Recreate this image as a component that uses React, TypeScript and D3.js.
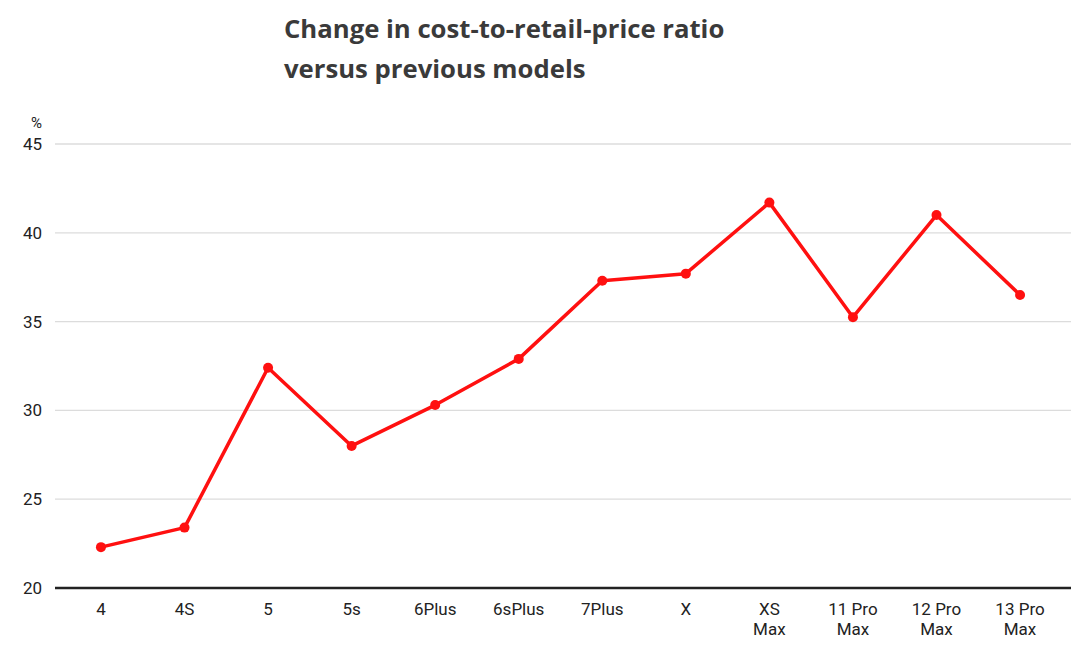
import React, { useEffect, useRef } from "react";
import * as d3 from "d3";

const models = [
  "4", "4S", "5", "5s", "6Plus", "6sPlus", "7Plus", "X",
  "XS\nMax", "11 Pro\nMax", "12 Pro\nMax", "13 Pro\nMax",
];
const ratios = [22.3, 23.4, 32.4, 28.0, 30.3, 32.9, 37.3, 37.7, 41.7, 35.25, 41.0, 36.5];
const yTicks = [20, 25, 30, 35, 40, 45];
const titleLines = ["Change in cost-to-retail-price ratio", "versus previous models"];

const W = 1080;
const H = 653;

export default function App() {
  const ref = useRef<SVGSVGElement>(null);

  useEffect(() => {
    const svg = d3.select(ref.current);
    svg.selectAll("*").remove();

    const left = 55, right = 1071, top = 144, bottom = 588;

    const x = d3.scalePoint<string>().domain(models).range([left, 1066]).padding(0.55);
    const y = d3.scaleLinear().domain([20, 45]).range([bottom, top]);

    // title
    svg.append("text")
      .attr("x", 284)
      .attr("y", 38)
      .attr("fill", "#3a3a3a")
      .style("font-family", "'Open Sans', sans-serif")
      .style("font-weight", 700)
      .style("font-size", "25.7px")
      .selectAll("tspan")
      .data(titleLines)
      .join("tspan")
      .attr("x", 284)
      .attr("dy", (d, i) => (i === 0 ? 0 : 40))
      .text(d => d);

    // grid
    svg.append("g")
      .selectAll("line")
      .data(yTicks.filter(t => t !== 20))
      .join("line")
      .attr("x1", left)
      .attr("x2", right)
      .attr("y1", d => y(d))
      .attr("y2", d => y(d))
      .attr("stroke", "#dcdcdc")
      .attr("stroke-width", 1.3);

    // baseline
    svg.append("line")
      .attr("x1", left)
      .attr("x2", right)
      .attr("y1", y(20))
      .attr("y2", y(20))
      .attr("stroke", "#222")
      .attr("stroke-width", 2.5);

    // y labels
    svg.append("g")
      .selectAll("text")
      .data(yTicks)
      .join("text")
      .attr("x", 42)
      .attr("y", d => y(d) + 6)
      .attr("text-anchor", "end")
      .attr("fill", "#222")
      .style("font-family", "Roboto, sans-serif")
      .style("font-size", "17px")
      .text(d => d);

    svg.append("text")
      .attr("x", 42)
      .attr("y", 128)
      .attr("text-anchor", "end")
      .attr("fill", "#222")
      .style("font-family", "Roboto, sans-serif")
      .style("font-size", "15px")
      .text("%");

    // x labels
    const xl = svg.append("g")
      .selectAll("text")
      .data(models)
      .join("text")
      .attr("text-anchor", "middle")
      .attr("fill", "#222")
      .style("font-family", "Roboto, sans-serif")
      .style("font-size", "17px");
    xl.selectAll("tspan")
      .data(d => d.split("\n").map(s => ({ s, m: d })))
      .join("tspan")
      .attr("x", d => x(d.m)!)
      .attr("y", (d, i) => 615 + i * 20)
      .text(d => d.s);

    // line
    const pts = models.map((m, i) => [x(m)!, y(ratios[i])] as [number, number]);
    svg.append("path")
      .attr("d", d3.line()(pts)!)
      .attr("fill", "none")
      .attr("stroke", "#ff1010")
      .attr("stroke-width", 3.5)
      .attr("stroke-linejoin", "round");

    svg.append("g")
      .selectAll("circle")
      .data(pts)
      .join("circle")
      .attr("cx", d => d[0])
      .attr("cy", d => d[1])
      .attr("r", 5)
      .attr("fill", "#ff1010");
  }, []);

  return (
    <svg ref={ref} width={W} height={H} style={{ display: "block", position: "absolute", left: 0, top: 0, background: "#fff" }} />
  );
}
